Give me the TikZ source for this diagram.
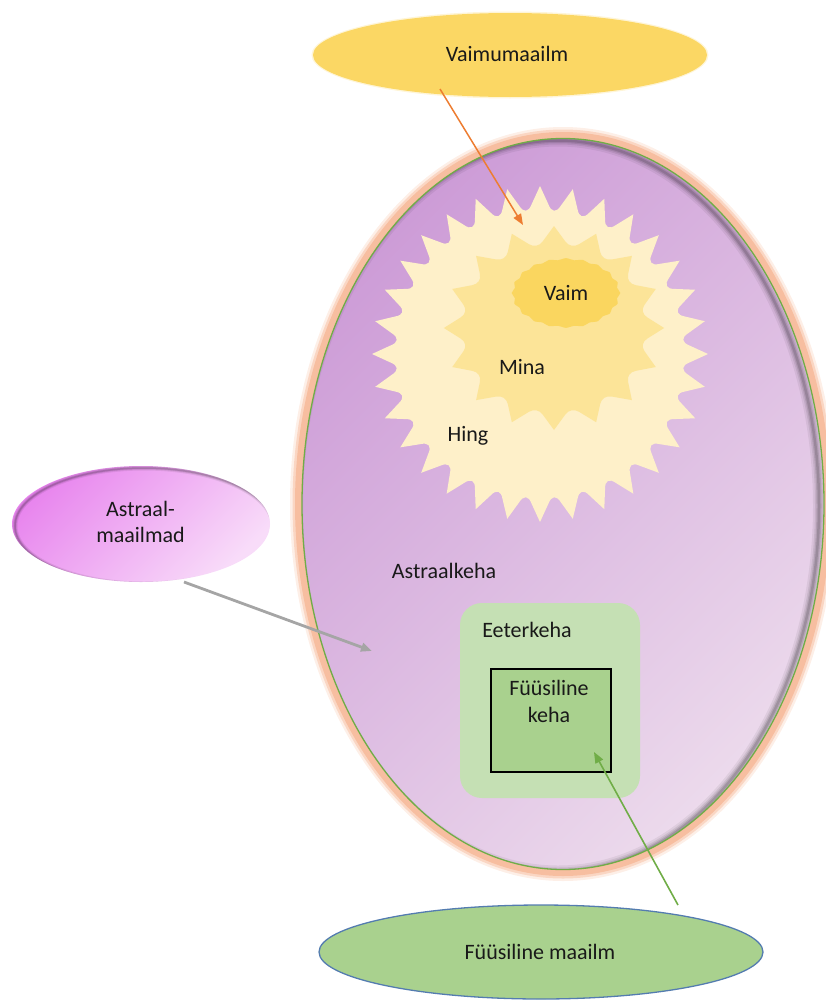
\documentclass[tikz,border=0pt]{standalone}
\usepackage{fontspec}
\setmainfont{Carlito}
\usetikzlibrary{shapes.geometric,arrows.meta}
\definecolor{glowC}{RGB}{247,190,160}
\definecolor{edgeG}{RGB}{112,173,71}
\definecolor{astA}{RGB}{205,156,215}
\definecolor{astB}{RGB}{236,218,236}
\definecolor{creamC}{RGB}{254,240,201}
\definecolor{midC}{RGB}{252,228,152}
\definecolor{vaimC}{RGB}{250,214,95}
\definecolor{vmC}{RGB}{251,215,100}
\definecolor{pinkA}{RGB}{232,134,238}
\definecolor{pinkB}{RGB}{248,220,249}
\definecolor{etherC}{RGB}{197,224,180}
\definecolor{physC}{RGB}{169,209,142}
\definecolor{blueE}{RGB}{84,124,176}
\definecolor{arrO}{RGB}{237,125,49}
\definecolor{arrG}{RGB}{165,165,165}
\definecolor{arrGr}{RGB}{112,173,71}
\definecolor{txtC}{RGB}{25,25,25}
\begin{document}
\begin{tikzpicture}[x=1pt,y=-1pt,
  every node/.style={inner sep=0pt, text=txtC, font=\fontsize{22}{26}\selectfont},
  worldell/.style={ellipse},
  lbl/.style={anchor=base},
  arrowline/.style={line width=#1, -{Triangle[length=11pt,width=8.5pt]}}]
\useasboundingbox (0,0) rectangle (825,1001);

% ---- Vaimumaailm ----
\fill[vmC, opacity=.25] (510,55) ellipse [x radius=198.5pt, y radius=43.5pt];
\node[worldell, fill=vmC, minimum width=394pt, minimum height=84pt] (vm) at (510,55) {};
\node at (507,54) {Vaimumaailm};

% ---- big astral ellipse ----
\fill[glowC, opacity=.25] (563,504) ellipse [x radius=273pt, y radius=377pt];
\fill[glowC, opacity=.5] (563,504) ellipse [x radius=270.5pt, y radius=374.5pt];
\fill[glowC] (563,504) ellipse [x radius=268pt, y radius=372pt];
\node[worldell, minimum width=522pt, minimum height=731pt,
      top color=astA, bottom color=astB, shading angle=45] (astral) at (563,504) {};
\begin{scope}
  \clip (563,504) ellipse [x radius=261pt, y radius=365.5pt];
  \foreach \w/\o in {12/0.06,8/0.08,5/0.1,2.5/0.13}
    \draw[black, opacity=\o, line width=\w pt] (558,506) ellipse [x radius=261pt, y radius=365.5pt];
\end{scope}
\draw[edgeG, line width=1.3pt] (563,504) ellipse [x radius=261pt, y radius=365.5pt];

% ---- sun: Hing ----
\begin{scope}[shift={(540,354)}]
  \fill[creamC] (0:168) \foreach \i in {0,...,31}{
      -- ({\i*11.25+3.2}:150) .. controls ({\i*11.25+4.6}:142) and ({\i*11.25+6.6}:142) .. ({\i*11.25+8.05}:150)
      -- ({(\i+1)*11.25}:168)} -- cycle;
\end{scope}
% ---- Mina ----
\begin{scope}[shift={(554,328)}, xscale=1.08]
  \fill[midC] (0:102) \foreach \i in {0,...,15}{
      -- ({\i*22.5+7}:87) .. controls ({\i*22.5+9.5}:83) and ({\i*22.5+13}:83) .. ({\i*22.5+15.5}:87)
      -- ({(\i+1)*22.5}:102)} -- cycle;
\end{scope}
% ---- Vaim ----
\fill[vaimC] plot[smooth cycle, domain=0:351, samples=40]
  ({566+53*(1+0.025*cos(20*\x))*cos(\x)}, {293+34*(1+0.025*cos(20*\x))*sin(\x)});

\node[lbl] (vaim) at (566,300) {Vaim};
\node[lbl] (mina) at (522,374) {Mina};
\node[lbl] (hing) at (468,441) {Hing};
\node[lbl] (astrtxt) at (444,578) {Astraalkeha};

% ---- Eeterkeha ----
\node[fill=etherC, rounded corners=22pt, minimum width=180pt, minimum height=195pt] (ether) at (550,700.5) {};
\node[lbl] at (527,637) {Eeterkeha};
\node[fill=physC, draw=black, line width=1.3pt, minimum width=120pt, minimum height=103pt] (phys) at (551,720.5) {};
\node[align=center, font=\fontsize{22}{27}\selectfont] at (549,701.5) {Füüsiline\\keha};

% ---- Astraalmaailmad ----
\node[worldell, minimum width=258pt, minimum height=116pt,
      top color=pinkA, bottom color=pinkB, shading angle=45] (am) at (141,524) {};
\begin{scope}
  \clip (141,524) ellipse [x radius=129pt, y radius=58pt];
  \foreach \w/\o in {5/0.07,3/0.1,1.5/0.15}
    \draw[black, opacity=\o, line width=\w pt] (144,526) ellipse [x radius=129pt, y radius=58pt];
\end{scope}
\node[align=center] at (140.5,522) {Astraal-\\maailmad};

% ---- Füüsiline maailm ----
\node[worldell, fill=physC, draw=blueE, line width=1.3pt, minimum width=444pt, minimum height=94pt] (fm) at (541,952) {};
\node at (540,952) {Füüsiline maailm};

% ---- arrows ----
\coordinate (o1) at (440,89);
\coordinate (o2) at (523,225);
\coordinate (g1) at (184,582);
\coordinate (g2) at (372,651);
\coordinate (n1) at (678,905);
\coordinate (n2) at (594,752);
\draw[arrO, arrowline=1.5pt] (o1) -- (o2);
\draw[arrG, arrowline=2.8pt] (g1) -- (g2);
\draw[arrGr, arrowline=1.6pt] (n1) -- (n2);
\end{tikzpicture}
\end{document}
